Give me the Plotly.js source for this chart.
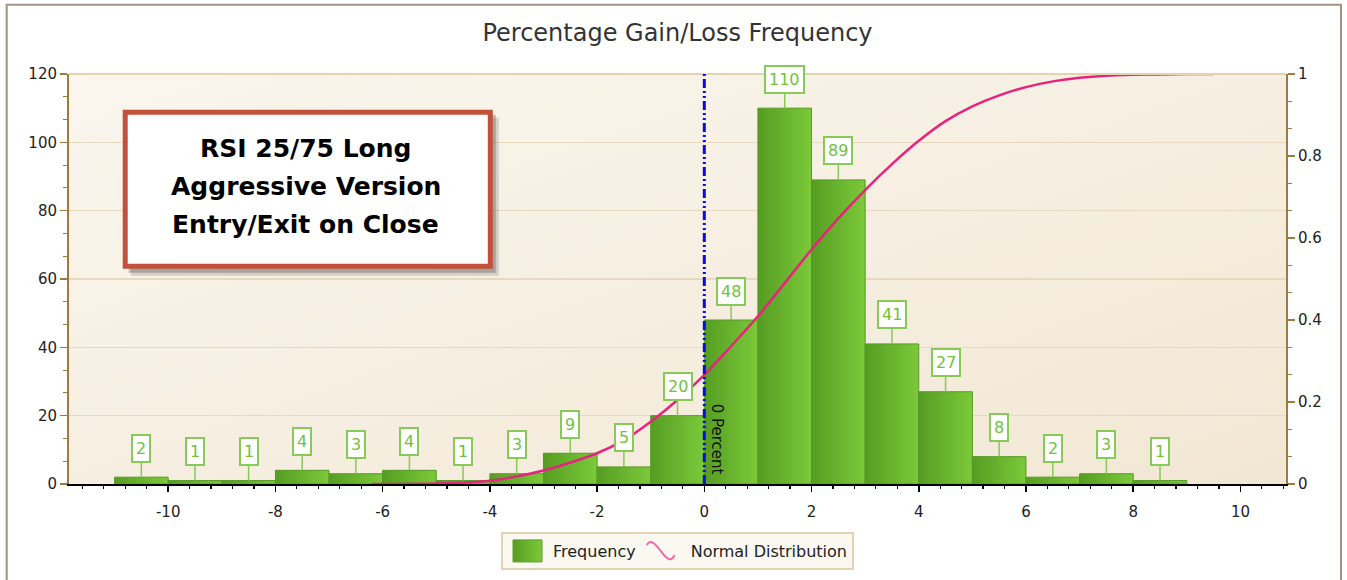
<!DOCTYPE html>
<html>
<head>
<meta charset="utf-8">
<script src="https://cdn.plot.ly/plotly-3.0.1.min.js"></script>
<style>
  html, body { margin: 0; padding: 0; background: #ffffff; }
  #chart { width: 1347px; height: 580px; }
</style>
</head>
<body>
<div id="chart"></div>
<script>
// ---- Data ----
const binCenters = [-10.5, -9.5, -8.5, -7.5, -6.5, -5.5, -4.5, -3.5, -2.5, -1.5, -0.5, 0.5, 1.5, 2.5, 3.5, 4.5, 5.5, 6.5, 7.5, 8.5];
const frequency  = [2, 1, 1, 4, 3, 4, 1, 3, 9, 5, 20, 48, 110, 89, 41, 27, 8, 2, 3, 1];

const normX = [-6.2, -5, -4, -3, -2, -1.5, -1, -0.5, 0, 0.5, 1, 1.5, 2, 2.5, 3, 3.5, 4, 4.5, 5, 5.5, 6, 6.5, 7, 7.5, 8, 8.5, 9, 9.5];
const normY = [0, 0.001, 0.008, 0.033, 0.075, 0.107, 0.152, 0.205, 0.266, 0.336, 0.409, 0.49, 0.572, 0.648, 0.717, 0.78, 0.837, 0.885, 0.921, 0.948, 0.968, 0.982, 0.991, 0.996, 0.998, 0.999, 1.0, 1.0];

const xTickVals = [-10, -8, -6, -4, -2, 0, 2, 4, 6, 8, 10];
const xTickText = ['-10', '-8', '-6', '-4', '-2', '0', '2', '4', '6', '8', '10'];
const yTickVals = [0, 20, 40, 60, 80, 100, 120];
const y2TickVals = [0, 0.2, 0.4, 0.6, 0.8, 1];
const y2TickText = ['0', '0.2', '0.4', '0.6', '0.8', '1'];

const titleText = 'Percentage Gain/Loss Frequency';
const boxLines = ['RSI 25/75 Long', 'Aggressive Version', 'Entry/Exit on Close'];
const zeroLineLabel = '0 Percent';
const zeroLineX = 0;

// ---- Styles ----
const FONT = 'DejaVu Sans, Verdana, sans-serif';
const GREEN_TXT = '#72c238';
const GREEN_BORDER = '#88ca58';
const AXIS_BROWN = '#9b7b3e';

const bgSvg = "<svg xmlns='http://www.w3.org/2000/svg' width='100' height='100' viewBox='0 0 100 100' preserveAspectRatio='none'>" +
  "<defs><linearGradient id='g' x1='0' y1='0' x2='1' y2='1'>" +
  "<stop offset='0' stop-color='#faf6ee'/><stop offset='1' stop-color='#f2e7d4'/></linearGradient></defs>" +
  "<rect width='100' height='100' fill='url(#g)'/></svg>";

const traces = [
  {
    type: 'bar',
    name: 'Frequency',
    x: binCenters,
    y: frequency,
    width: 1,
    marker: { color: '#67b12f', line: { color: '#559a26', width: 1 } },
    yaxis: 'y'
  },
  {
    type: 'scatter',
    mode: 'lines',
    name: 'Normal Distribution',
    x: normX,
    y: normY,
    line: { color: '#e8237d', width: 2.5, shape: 'spline', smoothing: 0.8 },
    yaxis: 'y2'
  }
];

const labelAnnotations = binCenters.map((c, i) => ({
  x: c, y: frequency[i], xref: 'x', yref: 'y',
  text: String(frequency[i]),
  showarrow: true, arrowhead: 0, arrowwidth: 1.5, arrowcolor: GREEN_BORDER,
  ax: 0, ay: -29, standoff: 0,
  bgcolor: '#ffffff', bordercolor: GREEN_BORDER, borderwidth: 2, borderpad: 3,
  font: { family: FONT, size: 16, color: GREEN_TXT }
}));

const boxLineY = [149, 187, 225];
const boxAnnotations = boxLines.map((t, i) => ({
  xref: 'paper', yref: 'paper',
  x: (306 - 69.3) / 1216.7, y: (484 - boxLineY[i]) / 409.7,
  xanchor: 'center', yanchor: 'middle',
  text: '<b>' + t + '</b>', showarrow: false,
  font: { family: 'DejaVu Sans, sans-serif', size: 25, color: '#000000' }
}));

const zeroAnno = {
  x: zeroLineX, xref: 'x', y: (484 - 439) / 409.7, yref: 'paper',
  text: zeroLineLabel, textangle: 90, showarrow: false,
  xanchor: 'center', yanchor: 'middle', xshift: 13,
  font: { family: FONT, size: 15, color: '#111111' }
};

function px2paperX(px) { return (px - 69.3) / 1216.7; }
function px2paperY(py) { return (484 - py) / 409.7; }

const layout = {
  width: 1347, height: 580,
  margin: { l: 69, r: 61, t: 74, b: 96, autoexpand: false },
  paper_bgcolor: '#ffffff',
  plot_bgcolor: 'rgba(0,0,0,0)',
  bargap: 0,
  showlegend: true,
  title: {
    text: titleText, x: 0.5, xref: 'paper', xanchor: 'center',
    y: 1 - 33 / 580, yanchor: 'middle', yref: 'container',
    font: { family: FONT, size: 24, color: '#333333' }
  },
  font: { family: FONT, size: 15, color: '#222222' },
  xaxis: {
    range: [-11.85, 10.85],
    tickvals: xTickVals, ticktext: xTickText,
    ticks: 'outside', ticklen: 6, tickwidth: 1.5, tickcolor: '#000000',
    minor: { dtick: 0.4, tick0: 0, ticks: 'outside', ticklen: 3, tickcolor: '#000000', tickwidth: 1.2, showgrid: false },
    showline: true, linecolor: '#000000', linewidth: 2,
    showgrid: false, zeroline: false,
    tickfont: { family: FONT, size: 15, color: '#222222' },
    ticklabelstandoff: 7
  },
  yaxis: {
    range: [0, 120],
    tickvals: yTickVals,
    ticks: 'outside', ticklen: 7, tickwidth: 1.5, tickcolor: AXIS_BROWN,
    minor: { dtick: 20 / 3, tick0: 0, ticks: 'outside', ticklen: 4, tickcolor: AXIS_BROWN, tickwidth: 1.2, showgrid: false },
    showline: true, linecolor: AXIS_BROWN, linewidth: 2,
    showgrid: true, gridcolor: '#e6d9c0', gridwidth: 1.5,
    zeroline: false,
    tickfont: { family: FONT, size: 15, color: '#222222' }
  },
  yaxis2: {
    range: [0, 1], overlaying: 'y', side: 'right',
    tickvals: y2TickVals, ticktext: y2TickText,
    ticks: 'outside', ticklen: 7, tickwidth: 1.5, tickcolor: AXIS_BROWN,
    minor: { dtick: 0.2 / 3, tick0: 0, ticks: 'outside', ticklen: 4, tickcolor: AXIS_BROWN, tickwidth: 1.2, showgrid: false },
    showline: true, linecolor: AXIS_BROWN, linewidth: 2,
    showgrid: false, zeroline: false,
    tickfont: { family: FONT, size: 15, color: '#222222' }
  },
  legend: {
    orientation: 'h', x: 0.5, xanchor: 'center', y: px2paperY(532), yanchor: 'top',
    bgcolor: '#fbf8f1', bordercolor: '#e2d3b3', borderwidth: 2,
    font: { family: FONT, size: 16, color: '#222222' },
    itemwidth: 40, traceorder: 'normal'
  },
  images: [{
    source: 'data:image/svg+xml;charset=utf-8,' + encodeURIComponent(bgSvg),
    xref: 'paper', yref: 'paper', x: 0, y: 1, sizex: 1, sizey: 1,
    xanchor: 'left', yanchor: 'top', sizing: 'stretch', layer: 'below'
  }],
  shapes: [
    { type: 'rect', xref: 'paper', yref: 'paper',
      x0: px2paperX(7), x1: px2paperX(1341), y0: px2paperY(640), y1: px2paperY(5),
      line: { color: '#a29282', width: 2 }, fillcolor: 'rgba(0,0,0,0)', layer: 'below' },
    { type: 'line', xref: 'paper', yref: 'paper', x0: 0, x1: 1, y0: 1, y1: 1,
      line: { color: '#e3d3b1', width: 2 } },
    { type: 'line', xref: 'x', yref: 'paper', x0: zeroLineX, x1: zeroLineX, y0: 0, y1: 1,
      line: { color: '#0a0ae6', width: 3, dash: '9px,3px,2px,3px,2px,3px' }, layer: 'above' },
    { type: 'rect', xref: 'paper', yref: 'paper',
      x0: px2paperX(131), x1: px2paperX(499), y0: px2paperY(276), y1: px2paperY(118),
      fillcolor: 'rgba(60,60,60,0.18)', line: { width: 0 }, layer: 'above' },
    { type: 'rect', xref: 'paper', yref: 'paper',
      x0: px2paperX(129), x1: px2paperX(496), y0: px2paperY(273), y1: px2paperY(115),
      fillcolor: 'rgba(60,60,60,0.3)', line: { width: 0 }, layer: 'above' },
    { type: 'rect', xref: 'paper', yref: 'paper',
      x0: px2paperX(125.5), x1: px2paperX(490.5), y0: px2paperY(266.5), y1: px2paperY(112.5),
      fillcolor: '#ffffff', line: { color: '#c2503b', width: 5 }, layer: 'above' }
  ],
  annotations: labelAnnotations.concat(boxAnnotations, [zeroAnno])
};

function applyGradients(gd) {
  const svg = gd.querySelector('svg.main-svg');
  if (!svg) return;
  const ns = 'http://www.w3.org/2000/svg';
  let defs = svg.querySelector('defs');
  if (!defs) { defs = document.createElementNS(ns, 'defs'); svg.insertBefore(defs, svg.firstChild); }
  if (!svg.querySelector('#barGrad')) {
    const lg = document.createElementNS(ns, 'linearGradient');
    lg.setAttribute('id', 'barGrad');
    lg.setAttribute('x1', '0'); lg.setAttribute('y1', '0');
    lg.setAttribute('x2', '1'); lg.setAttribute('y2', '0');
    [['0', '#559d22'], ['1', '#7cc93a']].forEach(([o, c]) => {
      const s = document.createElementNS(ns, 'stop');
      s.setAttribute('offset', o); s.setAttribute('stop-color', c);
      lg.appendChild(s);
    });
    defs.appendChild(lg);
  }
  gd.querySelectorAll('.barlayer .point path').forEach(p => { p.style.fill = 'url(#barGrad)'; });
  // legend symbols: larger bar swatch and a wavy line, as in the original legend
  gd.querySelectorAll('.legend .traces').forEach(tr => {
    const barSym = tr.querySelector('.legendpoints path');
    const lineSym = tr.querySelector('.legendlines path');
    if (barSym && !lineSym) {
      barSym.setAttribute('d', 'M-15,-11H14V11H-15Z');
      barSym.style.fill = 'url(#barGrad)';
      barSym.style.stroke = '#5a9f2a';
      barSym.style.strokeWidth = '1px';
    }
    if (lineSym) {
      lineSym.setAttribute('d', 'M6,-6C10,-12 14,-8 20,0S30,12 34,4');
      lineSym.style.fill = 'none';
      lineSym.style.stroke = '#f06aa6';
      lineSym.style.strokeWidth = '2px';
    }
  });
}

Plotly.newPlot('chart', traces, layout, { displayModeBar: false, staticPlot: true }).then(gd => {
  applyGradients(gd);
  gd.on('plotly_afterplot', () => applyGradients(gd));
});
</script>
</body>
</html>
